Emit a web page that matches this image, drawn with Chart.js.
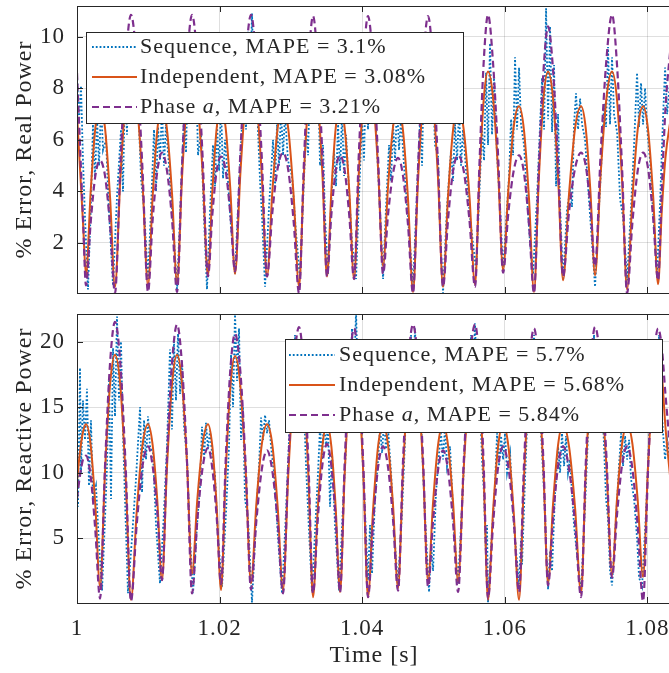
<!DOCTYPE html>
<html>
<head>
<meta charset="utf-8">
<script src="https://cdn.jsdelivr.net/npm/chart.js@4.4.1/dist/chart.umd.min.js"></script>
<style>
  html, body { margin: 0; padding: 0; background: #fff; overflow: hidden; }
  #wrap { position: relative; width: 669px; height: 673px; overflow: hidden; }
  #wrap canvas { position: absolute; left: 0; }
  #realChart { top: 0; }
  #reactChart { top: 300px; }
</style>
</head>
<body>
<div id="wrap">
  <canvas id="realChart" width="675" height="300"></canvas>
  <canvas id="reactChart" width="675" height="373"></canvas>
</div>
<script>
// sample times for the Independent / Phase a curves, ms after t = 1 s
const gridMs = [
  0.00, 0.42, 0.84,
  1.26, 1.92, 2.57, 3.23, 3.93, 4.63,
  5.33, 6.08, 6.82, 7.57, 8.37, 9.16,
  9.96, 10.61, 11.27, 11.92, 12.62, 13.33,
  14.03, 14.73, 15.43, 16.13, 16.88, 17.62,
  18.37, 18.98, 19.59, 20.20, 20.85, 21.51,
  22.16, 22.91, 23.65, 24.40, 25.15, 25.90,
  26.65, 27.40, 28.14, 28.89, 29.64, 30.39,
  31.14, 31.79, 32.45, 33.10, 33.75, 34.41,
  35.06, 35.67, 36.28, 36.89, 37.54, 38.20,
  38.85, 39.50, 40.16, 40.81, 41.51, 42.22,
  42.92, 43.62, 44.32, 45.02, 45.72, 46.42,
  47.12, 47.82, 48.53, 49.23, 49.93, 50.63,
  51.33, 52.03, 52.74, 53.44, 54.23, 55.03,
  55.82, 56.43, 57.03, 57.64, 58.34, 59.05,
  59.75, 60.50, 61.24, 61.99, 62.69, 63.39,
  64.09, 64.75, 65.40, 66.06, 66.76, 67.46,
  68.16, 69.00, 69.85, 70.69, 71.34, 72.00,
  72.65, 73.44, 74.24, 75.03, 75.73, 76.44,
  77.14, 77.89, 78.63, 79.38, 80.08, 80.79,
  81.49, 82.00, 82.52, 83.30
];

// real power error (%)
const realInd = [
  7.0, 4.9, 2.8,
  0.75, 4.0, 6.45, 7.3, 6.45, 3.8,
  0.3, 4.5, 7.55, 8.65, 7.55, 4.5,
  0.35, 3.8, 6.4, 7.3, 6.4, 3.9,
  0.45, 4.55, 7.6, 8.65, 7.6, 4.7,
  0.75, 4.0, 6.45, 7.3, 6.45, 4.05,
  0.8, 4.7, 7.6, 8.65, 7.6, 4.7,
  0.7, 4.0, 6.45, 7.3, 6.4, 3.8,
  0.3, 4.5, 7.55, 8.65, 7.6, 4.7,
  0.7, 4.0, 6.45, 7.3, 6.45, 3.95,
  0.6, 4.6, 7.6, 8.65, 7.7, 4.9,
  1.1, 4.2, 6.5, 7.3, 6.35, 3.7,
  0.1, 4.4, 7.55, 8.65, 7.55, 4.5,
  0.3, 3.8, 6.4, 7.3, 6.4, 3.85,
  0.4, 4.5, 7.55, 8.65, 7.65, 4.8,
  0.95, 4.1, 6.5, 7.3, 6.35, 3.7,
  0.1, 4.4, 7.55, 8.65, 7.6, 4.6,
  0.55, 3.9, 6.45, 7.3, 6.45, 4.0,
  0.75, 4.7, 7.6, 8.65, 7.55, 4.4,
  0.2, 3.75, 6.4, 7.3, 6.4, 3.85,
  0.4, 3.2, 5.3, 6.9
];
const realPhase = [
  8.6, 5.8, 3.0,
  0.35, 2.8, 4.6, 5.2, 4.6, 2.7,
  0.05, 5.0, 9.0, 10.85, 9.0, 5.0,
  0.1, 2.9, 4.8, 5.5, 4.8, 2.9,
  0.1, 5.0, 9.0, 10.85, 9.1, 5.3,
  0.7, 3.1, 4.8, 5.35, 4.8, 3.1,
  0.9, 5.5, 9.1, 10.85, 9.0, 5.4,
  0.7, 3.2, 4.9, 5.5, 4.8, 2.8,
  0.05, 4.9, 8.9, 10.8, 9.0, 5.4,
  0.7, 3.1, 4.8, 5.4, 4.8, 3.0,
  0.6, 5.3, 9.0, 10.8, 9.0, 5.3,
  0.8, 3.1, 4.7, 5.3, 4.6, 2.7,
  0.05, 4.9, 8.9, 10.8, 8.9, 5.0,
  0.3, 2.9, 4.8, 5.4, 4.8, 2.9,
  0.3, 5.0, 9.0, 10.85, 9.0, 5.4,
  0.85, 3.2, 4.8, 5.4, 4.7, 2.7,
  0.05, 4.8, 8.6, 10.4, 8.7, 5.1,
  0.7, 3.2, 4.9, 5.5, 5.0, 3.4,
  1.1, 5.5, 9.1, 10.85, 8.9, 4.9,
  0.05, 2.8, 4.8, 5.5, 4.9, 3.0,
  0.55, 4.0, 7.2, 9.8
];
const realSeqMs = [
  0.00, 0.28, 0.56, 0.84, 1.12,
  1.54, 1.96, 2.24, 2.52, 2.81, 3.09, 3.37, 3.65, 4.07, 4.49,
  5.05, 5.61, 6.17, 6.45, 6.73, 7.01, 7.29, 7.57, 7.85, 8.13, 8.56, 8.98, 9.40,
  9.96, 10.38, 10.80, 11.08, 11.36, 11.64, 11.92, 12.20, 12.48, 12.90, 13.46,
  14.03, 14.59, 15.01, 15.29, 15.57, 15.85, 16.13, 16.41, 16.69, 16.97, 17.39, 17.81,
  18.23, 18.65, 19.07, 19.35, 19.64, 19.92, 20.20, 20.48, 20.76, 21.18, 21.60,
  22.16, 22.72, 23.14, 23.42, 23.70, 23.98, 24.26, 24.54, 24.82, 25.10, 25.39, 25.67, 25.95,
  26.37, 26.93, 27.49, 27.77, 28.05, 28.33, 28.61, 28.89, 29.17, 29.59, 30.15, 30.71,
  31.28, 31.70, 32.12, 32.40, 32.68, 32.96, 33.24, 33.52, 33.80, 34.08, 34.50, 34.78,
  35.20, 35.62, 36.04, 36.32, 36.61, 36.89, 37.17, 37.45, 37.73, 38.15, 38.57,
  39.13, 39.55, 39.97, 40.25, 40.53, 40.81, 41.09, 41.37, 41.65, 42.08, 42.50,
  42.92, 43.34, 43.76, 44.04, 44.32, 44.60, 44.88, 45.16, 45.44, 45.86, 46.42,
  47.12, 47.69, 48.11, 48.39, 48.67, 48.95, 49.23, 49.51, 49.79, 50.21, 50.63, 50.91,
  51.33, 51.89, 52.45, 52.73, 53.01, 53.30, 53.58, 53.86, 54.14, 54.56, 55.12,
  55.96, 56.38, 56.80, 57.08, 57.36, 57.64, 57.92, 58.20, 58.48, 58.91, 59.33,
  59.75, 60.17, 60.59, 60.87, 61.15, 61.43, 61.71, 61.99, 62.27, 62.69, 63.11, 63.53,
  63.95, 64.52, 64.94, 65.22, 65.50, 65.78, 66.06, 66.34, 66.62, 66.90, 67.18, 67.46, 67.74,
  68.16, 68.72, 69.14, 69.42, 69.70, 69.98, 70.27, 70.55, 70.83, 71.25, 71.81, 72.23,
  72.65, 73.21, 73.63, 73.91, 74.19, 74.47, 74.75, 75.03, 75.31, 75.74, 76.16, 76.58,
  77.14, 77.70, 78.12, 78.54, 78.82, 79.10, 79.38, 79.66, 79.94, 80.36, 80.78,
  81.35, 81.77, 82.19, 82.47, 82.75, 83.30
];
const realSeq = [
  8.5, 6.7, 8.1, 5.2, 3.0,
  0.2, 3.6, 6.6, 4.5, 6.8, 5.0, 7.4, 5.6, 6.0, 3.2,
  0.35, 3.8, 6.4, 4.0, 8.2, 6.2, 9.8, 7.4, 9.4, 6.8, 7.6, 4.5, 3.3,
  0.6, 3.3, 6.4, 4.0, 6.5, 5.2, 7.2, 5.0, 6.6, 5.0, 2.8,
  0.15, 4.0, 7.0, 5.5, 9.0, 7.0, 9.9, 7.2, 8.8, 5.4, 6.3, 3.0,
  0.2, 3.2, 5.8, 4.2, 6.6, 4.8, 7.3, 4.5, 6.0, 4.4, 2.6,
  0.8, 4.2, 6.6, 8.8, 6.4, 10.2, 7.6, 10.9, 8.0, 9.2, 6.3, 4.4, 3.0,
  0.3, 3.4, 6.0, 4.2, 6.6, 5.0, 7.2, 5.4, 7.0, 5.2, 4.6, 2.4,
  0.6, 3.6, 6.4, 5.4, 8.6, 6.6, 9.8, 7.2, 8.6, 5.0, 5.8, 3.0,
  0.8, 3.4, 5.6, 4.2, 6.6, 4.8, 7.0, 4.6, 6.2, 4.0, 2.0,
  0.6, 3.8, 6.8, 5.2, 8.8, 6.4, 9.6, 7.0, 8.2, 5.6, 3.2,
  0.6, 3.4, 5.8, 4.4, 6.6, 5.2, 7.4, 5.6, 6.8, 5.0, 3.0,
  0.3, 4.0, 6.8, 5.0, 9.0, 6.6, 10.0, 7.4, 9.0, 5.8, 5.4, 2.6,
  0.05, 3.4, 5.6, 4.4, 6.6, 5.2, 7.2, 5.0, 6.4, 4.8, 3.0,
  0.95, 3.6, 6.4, 5.2, 8.6, 5.8, 9.75, 6.2, 8.4, 5.4, 3.4,
  0.9, 2.8, 4.6, 6.8, 5.4, 9.2, 6.4, 8.8, 6.6, 5.8, 3.8, 2.0,
  0.8, 3.8, 6.6, 8.4, 6.4, 11.1, 6.8, 10.4, 6.3, 8.9, 4.2, 7.0, 3.4,
  0.55, 3.3, 4.0, 3.4, 6.6, 7.8, 6.4, 7.6, 6.6, 6.0, 3.6, 2.0,
  0.3, 3.4, 5.6, 7.4, 6.5, 9.6, 6.6, 9.2, 7.0, 6.3, 3.7, 3.0,
  0.55, 3.4, 5.8, 8.6, 6.5, 8.2, 6.6, 8.0, 6.5, 5.2, 3.2,
  0.8, 3.6, 6.9, 8.8, 7.0, 8.6
];

// reactive power error (%)
const reactInd = [
  9.3, 11.6, 13.1,
  13.7, 12.1, 7.5, 1.3, 10.1, 16.7,
  19.0, 16.6, 9.7, 0.3, 7.0, 12.0,
  13.7, 12.1, 7.8, 1.8, 10.4, 16.8,
  19.0, 16.8, 10.7, 2.3, 8.0, 12.2,
  13.7, 12.0, 7.4, 1.05, 10.0, 16.6,
  18.9, 16.6, 10.2, 1.55, 7.6, 12.1,
  13.7, 12.1, 7.4, 1.05, 10.0, 16.6,
  19.0, 16.6, 9.8, 0.5, 7.1, 12.0,
  13.7, 12.0, 7.3, 0.9, 9.9, 16.6,
  19.0, 16.6, 9.8, 0.5, 7.1, 12.0,
  13.7, 12.1, 7.5, 1.2, 10.1, 16.7,
  19.0, 16.8, 10.4, 1.7, 7.7, 12.1,
  13.7, 12.1, 7.7, 1.7, 10.3, 16.8,
  19.0, 16.6, 9.7, 0.3, 7.0, 12.0,
  13.7, 12.0, 7.0, 0.3, 9.7, 16.6,
  19.0, 16.7, 10.3, 1.55, 7.6, 12.1,
  13.7, 12.0, 7.3, 0.8, 9.9, 16.6,
  19.0, 16.8, 10.6, 2.2, 8.0, 12.2,
  13.7, 12.2, 7.9, 2.05, 10.5, 16.8,
  19.0, 17.6, 13.5, 9.0
];
const reactPhase = [
  8.0, 9.8, 11.0,
  11.3, 9.7, 5.6, 0.4, 10.5, 18.3,
  21.5, 18.3, 10.5, 0.2, 6.0, 10.4,
  12.0, 10.5, 6.9, 1.8, 11.2, 18.4,
  21.3, 18.2, 10.8, 0.8, 6.4, 10.4,
  11.9, 10.3, 6.6, 1.5, 10.9, 17.9,
  20.6, 17.7, 10.6, 1.1, 6.3, 10.2,
  11.7, 10.1, 6.2, 0.8, 10.8, 18.1,
  21.1, 18.0, 10.8, 0.8, 6.3, 10.6,
  12.2, 10.5, 6.5, 0.9, 10.8, 18.0,
  21.0, 17.9, 10.5, 0.5, 6.1, 10.4,
  12.0, 10.4, 6.4, 1.0, 10.9, 18.2,
  21.3, 18.3, 11.0, 1.3, 6.3, 10.2,
  11.7, 10.2, 6.2, 0.9, 10.8, 18.2,
  21.3, 18.2, 10.6, 0.4, 6.0, 10.4,
  12.0, 10.4, 6.4, 0.9, 10.7, 18.0,
  21.0, 18.0, 11.0, 1.4, 6.5, 10.5,
  12.0, 10.3, 6.1, 0.5, 10.6, 18.0,
  21.1, 18.2, 11.3, 2.0, 6.8, 10.6,
  12.0, 10.3, 5.9, 0.2, 10.2, 17.9,
  21.0, 19.6, 16.0, 11.0
];
const reactSeqMs = [
  0.00, 0.14, 0.42, 0.56, 0.84, 1.12, 1.40, 1.68, 1.96, 2.24, 2.66, 3.09,
  3.51, 3.93, 4.21, 4.49, 4.77, 5.05, 5.33, 5.61, 5.89, 6.17, 6.45, 6.73,
  7.15, 7.71, 8.27, 8.84, 9.12, 9.40, 9.68, 9.96, 10.24, 10.66, 11.08,
  11.64, 12.20, 12.62, 13.04, 13.32, 13.60, 13.88, 14.17, 14.45, 14.73, 15.01, 15.43, 15.85,
  16.27, 16.83, 17.25, 17.53, 17.81, 18.09, 18.37, 18.65, 18.93, 19.35, 19.78,
  20.34, 20.90, 21.32, 21.60, 21.88, 22.16, 22.44, 22.72, 23.00, 23.28, 23.56, 23.98,
  24.54, 25.10, 25.53, 25.81, 26.09, 26.37, 26.65, 26.93, 27.21, 27.63, 28.19,
  28.75, 29.31, 29.73, 30.01, 30.29, 30.57, 30.86, 31.14, 31.42, 31.70, 32.12, 32.54,
  32.96, 33.38, 33.80, 34.08, 34.36, 34.64, 34.92, 35.20, 35.48, 35.76, 36.18,
  36.75, 37.31, 37.73, 38.01, 38.29, 38.57, 38.85, 39.13, 39.41, 39.69, 39.97, 40.39,
  40.81, 41.09, 41.37, 41.79, 42.22, 42.50, 42.78, 43.06, 43.34, 43.62, 44.04, 44.46,
  45.02, 45.58, 46.00, 46.28, 46.56, 46.84, 47.12, 47.40, 47.69, 47.97, 48.39, 48.81,
  49.37, 49.65, 49.93, 50.35, 50.77, 51.05, 51.33, 51.61, 51.89, 52.31, 52.87,
  53.44, 54.00, 54.42, 54.70, 54.98, 55.26, 55.54, 55.82, 56.10, 56.38, 56.80, 57.08, 57.36, 57.50,
  57.64, 58.20, 58.62, 58.91, 59.19, 59.47, 59.75, 60.03, 60.31, 60.73, 61.15, 61.57,
  61.99, 62.27, 62.41, 62.83, 63.25, 63.53, 63.81, 64.09, 64.37, 64.66, 65.08, 65.50, 65.78,
  66.06, 66.34, 66.62, 67.04, 67.46, 67.74, 68.02, 68.30, 68.58, 68.86, 69.14, 69.70, 70.27,
  70.69, 71.25, 71.67, 71.95, 72.23, 72.51, 72.79, 73.07, 73.35, 73.77, 74.19, 74.47, 74.75,
  75.03, 75.59, 76.01, 76.30, 76.58, 76.86, 77.14, 77.42, 77.70, 78.12, 78.54, 78.82,
  79.24, 79.80, 80.22, 80.50, 80.78, 81.06, 81.35, 81.63, 81.91, 82.19, 82.47, 82.75, 83.30
];
const reactSeq = [
  9.5, 7.4, 18.0, 10.0, 15.5, 12.5, 16.4, 9.0, 14.0, 8.0, 9.0, 4.5,
  1.0, 6.5, 10.5, 17.0, 8.0, 19.5, 14.3, 21.9, 15.5, 20.0, 13.0, 8.0,
  0.8, 5.0, 9.5, 15.0, 8.5, 14.0, 11.0, 14.3, 12.0, 11.5, 6.0,
  1.55, 7.0, 12.0, 19.4, 13.3, 20.0, 15.5, 20.6, 16.0, 18.5, 13.5, 11.0, 5.0,
  0.8, 6.0, 9.0, 13.5, 11.0, 13.8, 11.8, 13.2, 11.5, 9.8, 5.0,
  1.3, 7.0, 12.0, 19.0, 15.0, 22.2, 17.0, 21.0, 12.5, 15.0, 8.0, 6.5,
  0.1, 6.5, 10.5, 14.2, 12.5, 14.4, 13.0, 14.0, 12.0, 10.0, 5.0,
  0.8, 7.0, 12.5, 18.0, 15.0, 20.5, 16.5, 20.0, 15.5, 17.0, 10.5, 5.5,
  0.9, 5.5, 10.0, 13.5, 11.0, 14.0, 12.0, 13.6, 7.4, 11.5, 6.0,
  1.0, 7.5, 12.0, 17.5, 15.0, 21.0, 17.0, 22.3, 16.5, 18.5, 12.0, 6.9,
  1.8, 6.0, 2.3, 8.0, 11.0, 13.5, 11.5, 14.0, 11.8, 13.3, 10.0, 5.5,
  1.3, 7.0, 12.5, 17.5, 15.0, 20.5, 16.5, 21.0, 16.0, 18.0, 12.0, 6.5,
  0.9, 4.5, 2.5, 8.5, 11.5, 13.0, 11.0, 13.5, 10.5, 12.0, 5.5,
  1.5, 7.5, 12.5, 18.0, 15.0, 20.5, 17.0, 21.4, 16.0, 17.5, 11.0, 8.4, 3.5, 6.0,
  0.1, 5.5, 9.0, 13.0, 10.5, 12.8, 11.0, 13.0, 10.0, 11.5, 7.0, 4.0,
  1.5, 5.0, 3.0, 9.5, 15.5, 19.0, 16.0, 20.5, 17.0, 19.5, 13.0, 8.5, 4.5,
  1.1, 4.0, 2.5, 8.5, 12.0, 10.0, 13.0, 10.5, 12.8, 10.0, 11.0, 6.0, 3.0,
  0.9, 7.5, 13.0, 18.0, 15.0, 20.5, 16.5, 20.0, 15.0, 14.0, 8.0, 6.5, 2.5,
  1.4, 6.5, 10.5, 13.0, 10.5, 12.8, 11.0, 12.5, 9.5, 8.0, 5.0, 2.0,
  1.3, 7.0, 12.5, 17.5, 15.0, 20.0, 16.5, 20.5, 15.5, 13.0, 11.0, 12.5, 10.0
];

const xTicks = [1, 1.02, 1.04, 1.06, 1.08];
const xTickLabels = ["1", "1.02", "1.04", "1.06", "1.08"];
const realTicks = [2, 4, 6, 8, 10];
const reactTicks = [5, 10, 15, 20];
const realLabels = ["Sequence, MAPE = 3.1%", "Independent, MAPE = 3.08%", "Phase a, MAPE = 3.21%"];
const reactLabels = ["Sequence, MAPE = 5.7%", "Independent, MAPE = 5.68%", "Phase a, MAPE = 5.84%"];

const ink = "#262626";
const serif = "'Liberation Serif', 'Times New Roman', serif";
const blue = "rgb(0, 114, 189)";
const orange = "rgb(217, 83, 25)";
const purple = "rgb(126, 47, 142)";

const pts = (ms, v) => ms.map((t, i) => ({ x: 1 + t / 1000, y: v[i] }));

function series(labels, seqMs, seq, ind, phase) {
  return [
    { label: labels[0], data: pts(seqMs, seq), borderColor: blue, borderWidth: 1.8, borderDash: [1.8, 2], tension: 0, order: 3 },
    { label: labels[1], data: pts(gridMs, ind), borderColor: orange, borderWidth: 2, cubicInterpolationMode: "monotone", order: 2 },
    { label: labels[2], data: pts(gridMs, phase), borderColor: purple, borderWidth: 2.2, borderDash: [7, 4], cubicInterpolationMode: "monotone", order: 1 },
  ];
}

// axes box, inward ticks and the legend box
const frame = {
  id: "frame",
  beforeDraw(chart) {
    chart.ctx.letterSpacing = "1px";
  },
  afterDatasetsDraw(chart, args, opts) {
    const { ctx, chartArea: a, scales: { x, y } } = chart;
    ctx.save();
    ctx.strokeStyle = ink;
    ctx.lineWidth = 1;
    ctx.strokeRect(a.left + 0.5, a.top + 0.5, a.right - a.left, a.bottom - a.top);
    ctx.beginPath();
    xTicks.forEach(v => {
      const px = Math.round(x.getPixelForValue(v)) + 0.5;
      ctx.moveTo(px, a.bottom); ctx.lineTo(px, a.bottom - 6);
      ctx.moveTo(px, a.top); ctx.lineTo(px, a.top + 6);
    });
    opts.yTicks.forEach(v => {
      const py = Math.round(y.getPixelForValue(v)) + 0.5;
      ctx.moveTo(a.left, py); ctx.lineTo(a.left + 6, py);
    });
    ctx.stroke();

    const L = opts.legend;
    ctx.fillStyle = "#fff";
    ctx.fillRect(L.x, L.y, L.w, L.h);
    ctx.strokeStyle = ink;
    ctx.strokeRect(L.x + 0.5, L.y + 0.5, L.w, L.h);
    chart.data.datasets.forEach((ds, i) => {
      const ry = L.rows[i];
      ctx.save();
      ctx.strokeStyle = ds.borderColor;
      ctx.lineWidth = ds.borderWidth;
      ctx.setLineDash(ds.borderDash || []);
      ctx.beginPath();
      ctx.moveTo(L.x1, ry); ctx.lineTo(L.x2, ry);
      ctx.stroke();
      ctx.restore();
      ctx.fillStyle = ink;
      ctx.textBaseline = "middle";
      ctx.textAlign = "left";
      ctx.letterSpacing = "1px";
      const parts = ds.label.startsWith("Phase a")
        ? [["Phase ", false], ["a", true], [ds.label.slice(7), false]]
        : [[ds.label, false]];
      let tx = L.tx;
      parts.forEach(([s, it]) => {
        ctx.font = (it ? "italic " : "") + "22px " + serif;
        ctx.fillText(s, tx, ry);
        tx += ctx.measureText(s).width;
      });
    });
    ctx.restore();
  }
};

function makeChart(id, cfg) {
  return new Chart(document.getElementById(id), {
    type: "line",
    data: { datasets: series(cfg.labels, cfg.seqMs, cfg.seq, cfg.ind, cfg.phase) },
    options: {
      responsive: false,
      devicePixelRatio: 1,
      animation: false,
      events: [],
      layout: { padding: cfg.padding },
      elements: { point: { radius: 0 } },
      plugins: {
        legend: { display: false },
        tooltip: { enabled: false },
        frame: { yTicks: cfg.yTicks, legend: cfg.legend },
      },
      scales: {
        x: {
          type: "linear",
          min: 1,
          max: 1.0833,
          afterBuildTicks: s => { s.ticks = xTicks.map(v => ({ value: v })); },
          afterFit: s => { s.height = cfg.xHeight; s.paddingLeft = 0; s.paddingRight = 0; },
          grid: { color: "rgba(38,38,38,0.15)", drawTicks: false },
          border: { display: false },
          ticks: {
            display: cfg.xLabels,
            maxRotation: 0,
            autoSkip: false,
            padding: 12,
            color: ink,
            font: { family: serif, size: 23 },
            callback: (v, i) => xTickLabels[i],
          },
          title: {
            display: cfg.xLabels,
            text: "Time [s]",
            color: ink,
            font: { family: serif, size: 24 },
            padding: { top: 0, bottom: 3 },
          },
        },
        y: {
          min: cfg.yMin,
          max: cfg.yMax,
          afterBuildTicks: s => { s.ticks = cfg.yTicks.map(v => ({ value: v })); },
          afterFit: s => { s.width = 77; s.paddingTop = 0; s.paddingBottom = 0; },
          grid: { color: "rgba(38,38,38,0.15)", drawTicks: false },
          border: { display: false },
          ticks: {
            padding: 12,
            color: ink,
            font: { family: serif, size: 23 },
            callback: v => String(v),
          },
          title: {
            display: true,
            text: cfg.yTitle,
            color: ink,
            font: { family: serif, size: 24 },
            padding: { top: 10, bottom: 0 },
          },
        },
      },
    },
    plugins: [frame],
  });
}

makeChart("realChart", {
  labels: realLabels, seqMs: realSeqMs, seq: realSeq, ind: realInd, phase: realPhase,
  yMin: 0.06, yMax: 11.19, yTicks: realTicks, yTitle: "% Error, Real Power",
  xLabels: false, xHeight: 0,
  padding: { left: 0, top: 6, right: 4, bottom: 7 },
  legend: { x: 86, y: 32, w: 377, h: 91, rows: [47, 77, 107], x1: 92, x2: 137, tx: 140 },
});

makeChart("reactChart", {
  labels: reactLabels, seqMs: reactSeqMs, seq: reactSeq, ind: reactInd, phase: reactPhase,
  yMin: 0.06, yMax: 22.1, yTicks: reactTicks, yTitle: "% Error, Reactive Power",
  xLabels: true, xHeight: 70,
  padding: { left: 0, top: 14, right: 4, bottom: 0 },
  legend: { x: 285, y: 39, w: 377, h: 93, rows: [55, 85, 115], x1: 289, x2: 335, tx: 339 },
});
</script>
</body>
</html>
